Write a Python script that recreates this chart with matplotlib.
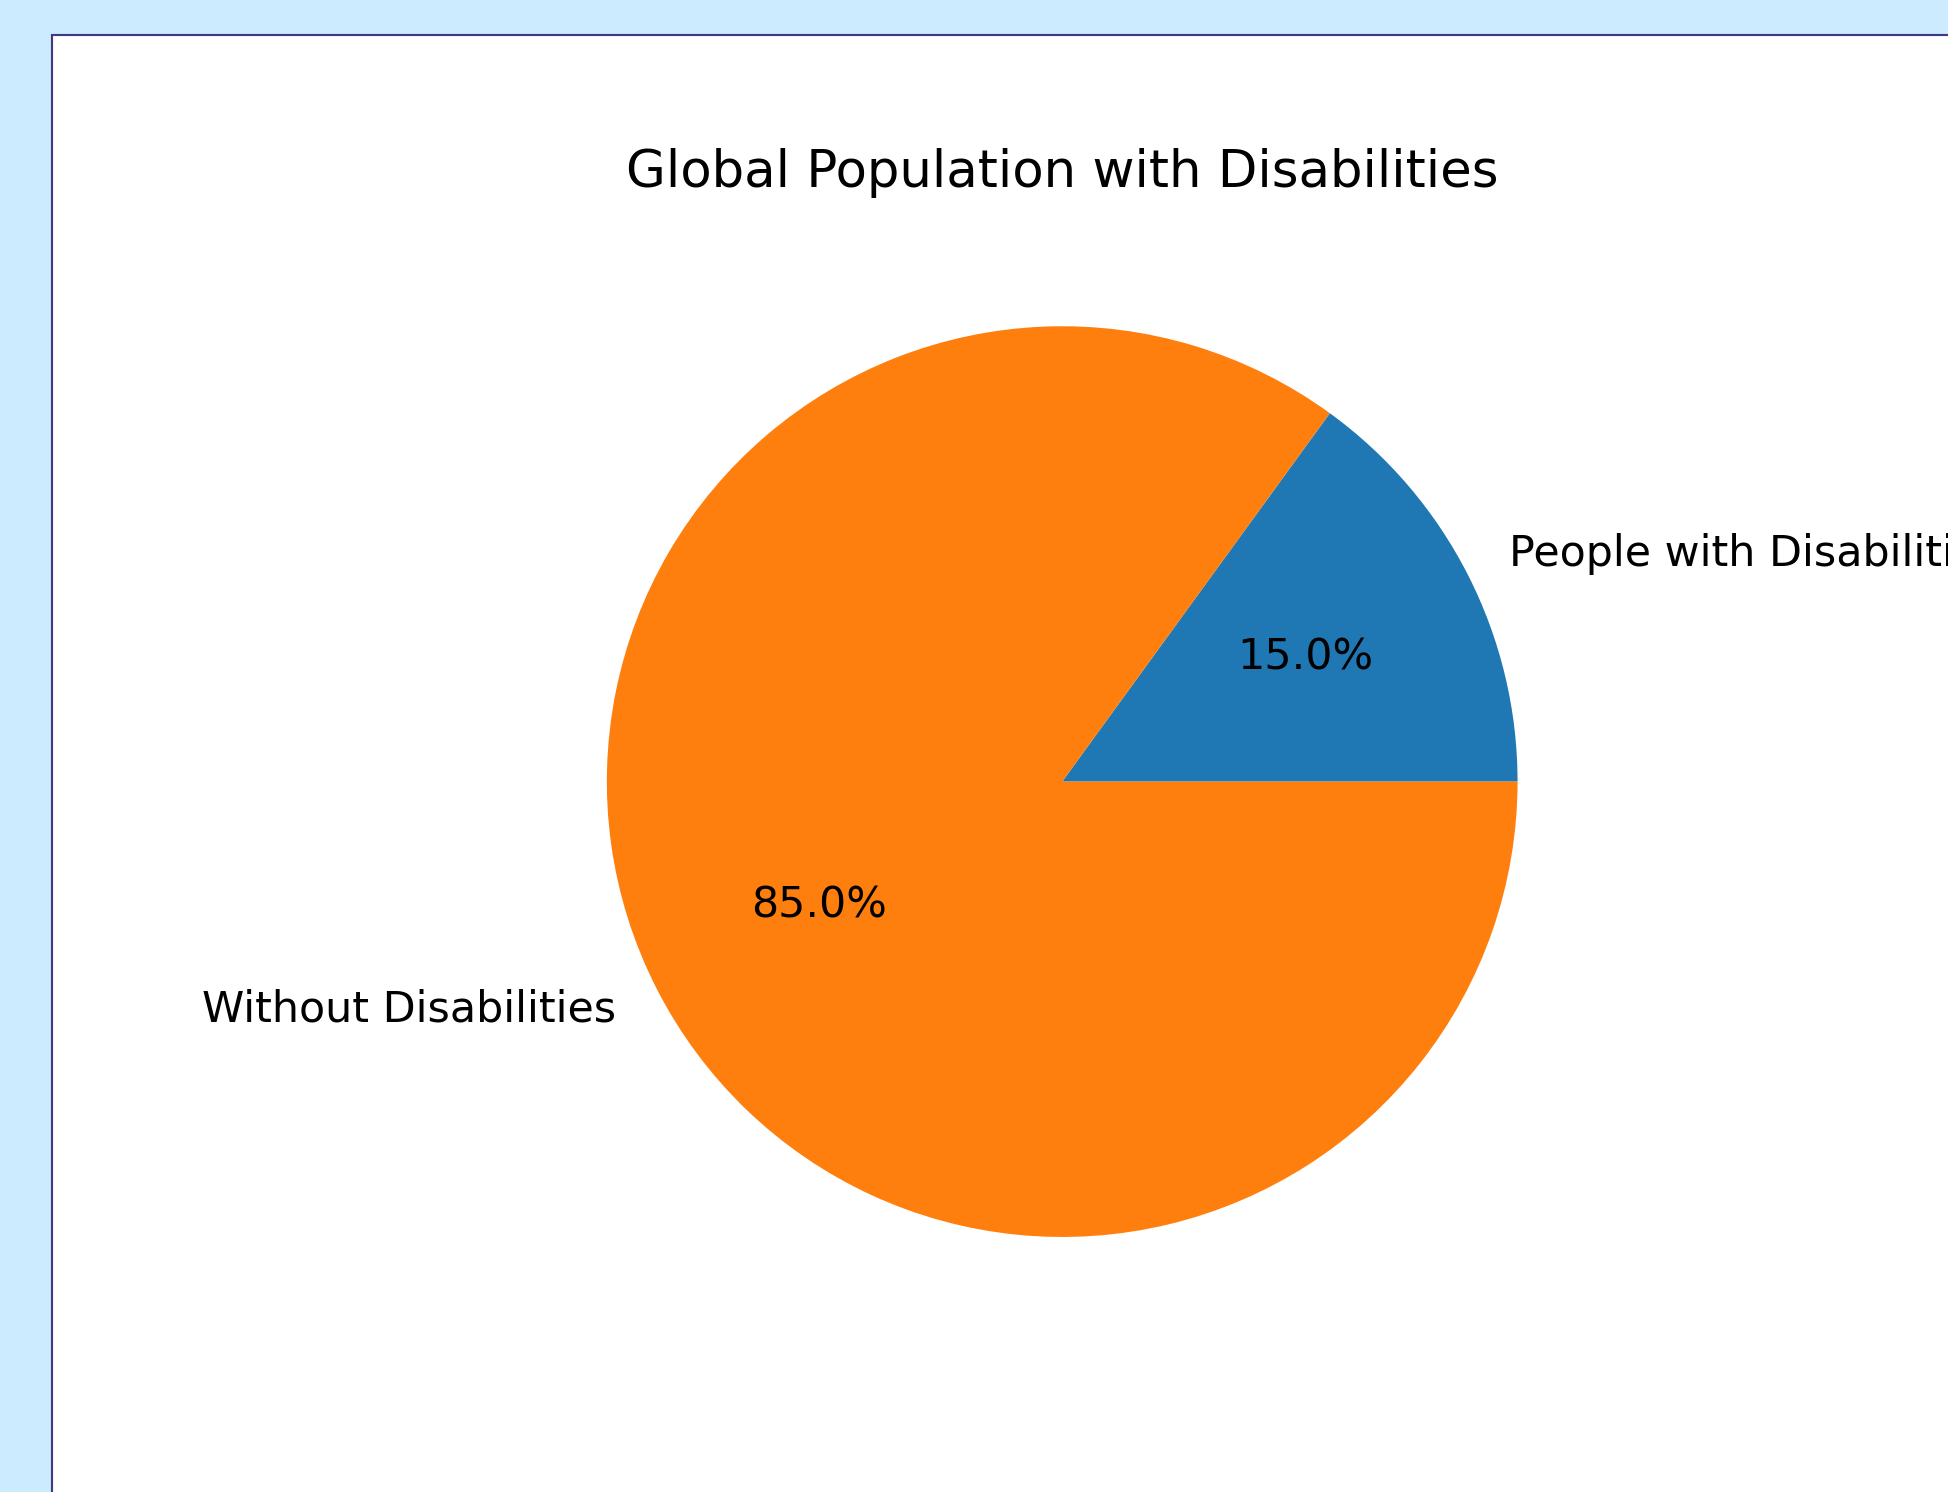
import matplotlib
matplotlib.use('Agg')
import matplotlib.pyplot as plt
from matplotlib.patches import Rectangle

labels = ['People with Disabilities', 'Without Disabilities']
sizes = [15, 85]

# screenshot of a default 640x480 figure, scaled ~3.08x, inside a bordered box
W, H = 1948, 1492
DPI = 308
fig = plt.figure(figsize=(W / DPI, H / DPI), dpi=DPI)
fig.patch.set_facecolor('#cdebfe')

# white box with thin dark border, cut off at right and bottom
box_left = 52 / W
box_top = 1 - 35 / H
fig.patches.append(Rectangle((box_left, -0.05), 1.2, box_top + 0.05,
                             transform=fig.transFigure, facecolor='white',
                             edgecolor='#3f3a80', linewidth=0.5, zorder=-5))

ax = fig.add_axes([298.4 / W, 1 - 1350.8 / H, 1527.6 / W, 1138.4 / H])
ax.set_zorder(2)
ax.pie(sizes, labels=labels, autopct='%1.1f%%')
ax.set_title('Global Population with Disabilities')

fig.savefig('out.png', dpi=DPI)
